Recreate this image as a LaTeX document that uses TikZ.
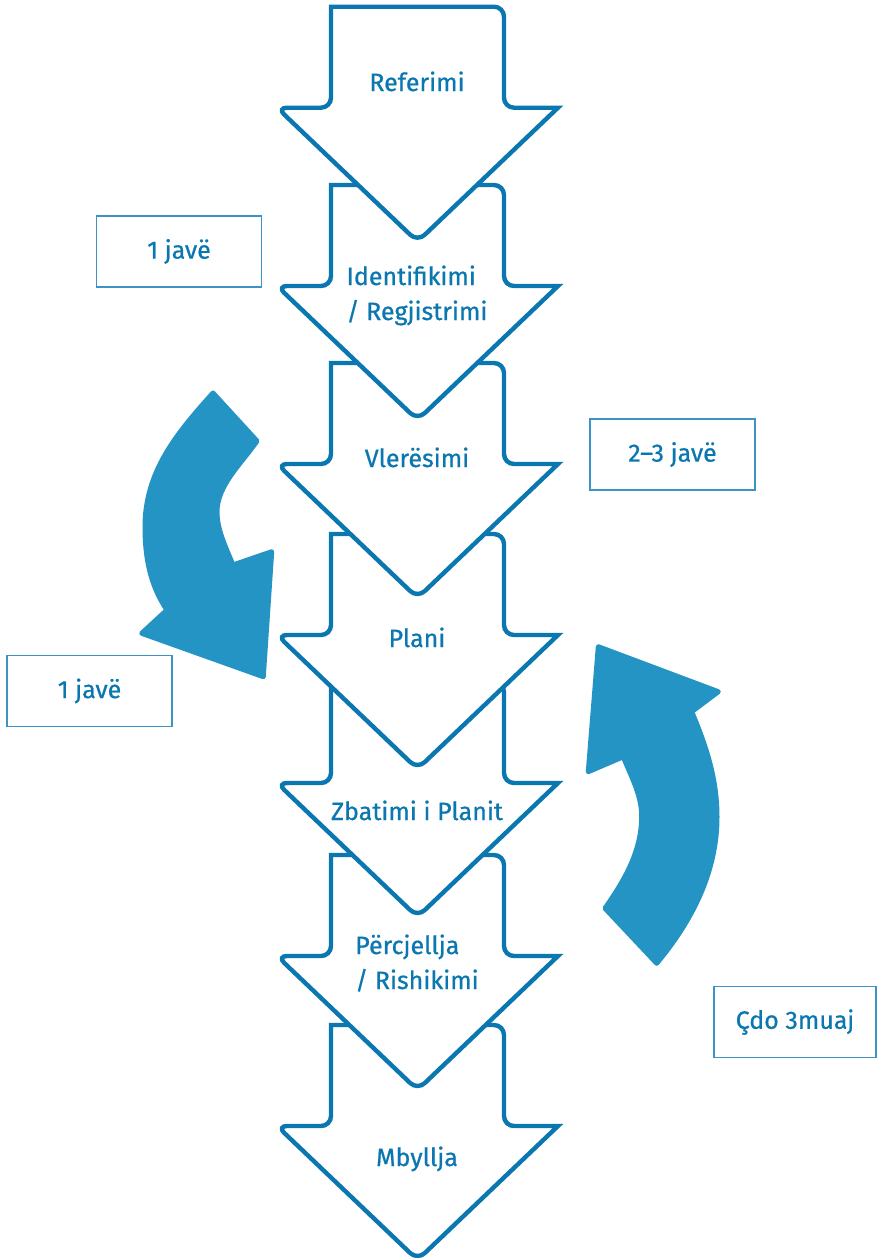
\documentclass[tikz,border=0pt]{standalone}
\usepackage{fontspec}
\setmainfont{Fira Sans}
\newfontfamily\etfont{Fira Sans}[FakeBold=0.7]

\definecolor{blu}{HTML}{0A77B0}
\definecolor{blucel}{HTML}{2394C4}
\definecolor{kutiblu}{HTML}{3C93C8}

% shigjeta e nje hapi, #1 = maja e trupit
\newcommand{\shigjeta}[1]{%
\draw[hap] (331,#1+101) -- (331,#1) [rounded corners=10pt] -- (504,#1) -- (504,#1+101) [sharp corners] -- (558,#1+101) [rounded corners=10pt] -- (417.5,#1+235) -- (277,#1+101) -- cycle;}

\begin{document}
\begin{tikzpicture}[x=1pt,y=-1pt,
hap/.style ={draw=blu, line width=4.4pt, fill=white},
etiketa/.style ={text=blu, font=\etfont\fontsize{25}{35}\selectfont, anchor=base, inner sep=0pt, align=left},
kuti/.style ={rectangle, draw=kutiblu, line width=1.6pt, text=blu, font=\etfont\fontsize{25}{35}\selectfont, minimum width=165pt, minimum height=71pt, inner sep=0pt},
kthim/.style ={fill=blucel, draw=blucel, line width=5pt, line join=round}
]
\useasboundingbox (0,0) rectangle (881,1258);

\shigjeta{1025}
\draw (417,1166) node[etiketa] (M) {Mbyllja};
\shigjeta{855}
\draw (417,989) node[etiketa] (Rs) {Përcjellja\\ / Rishikimi};
\shigjeta{682}
\draw (417,820) node[etiketa] (Z) {Zbatimi i Planit};
\shigjeta{534}
\draw (417,647) node[etiketa] (P) {Plani};
\shigjeta{363}
\draw (417,467) node[etiketa] (V) {Vlerësimi};
\shigjeta{185}
\draw (417,320) node[etiketa] (I) {Identifikimi\\ / Regjistrimi};
\shigjeta{6.7}
\draw (417,91) node[etiketa] (R) {Referimi};

\draw (179,251.5) node[kuti] (J1) {1 javë};
\draw (672.5,454.5) node[kuti] (J2) {2–3 javë};
\draw (89.5,691) node[kuti] (J3) {1 javë};
\draw (795,1022) node[kuti, minimum width=162pt] (J4) {Çdo 3muaj};

% kthimet
\draw[kthim] (213,393) -- (257,441) .. controls (242,463) and (217,485) .. (217,512) .. controls (217,530) and (226,548) .. (233,565) -- (271.7,551.7) -- (263.3,676.7) -- (141.7,633.3) -- (167,610) .. controls (150,585) and (145,557) .. (145,527) .. controls (145,472) and (176,434) .. (213,393) -- cycle;
\draw[kthim] (598.3,646.7) -- (718.3,691.7) -- (691.7,711.7) .. controls (706.5,747) and (717,779) .. (717,817) .. controls (717,872) and (692,921) .. (656.7,963.3) -- (605,908.3) .. controls (625,879.6) and (641.7,851) .. (641.7,816) .. controls (641.7,795) and (631,776.2) .. (623.3,756.7) -- (588.3,771.7) -- cycle;

\end{tikzpicture}
\end{document}
